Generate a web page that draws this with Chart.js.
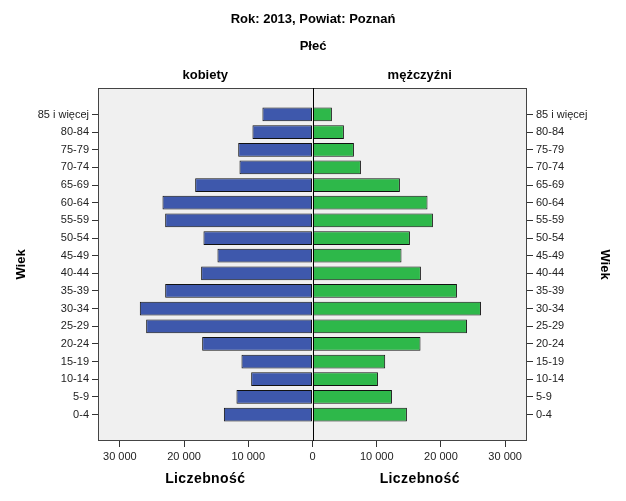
<!DOCTYPE html>
<html><head><meta charset="utf-8">
<script src="https://cdn.jsdelivr.net/npm/chart.js@4"></script>
<style>html,body{margin:0;padding:0;background:#fff}#c{display:block}</style>
</head><body>
<canvas id="c" width="626" height="501"></canvas>
<script>
const ageGroups = ['85 i więcej','80-84','75-79','70-74','65-69','60-64','55-59','50-54','45-49','40-44','35-39','30-34','25-29','20-24','15-19','10-14','5-9','0-4'];
const women = [7800, 9350, 11570, 11370, 18270, 23360, 22940, 16980, 14800, 17340, 22940, 26890, 25900, 17180, 11060, 9550, 11840, 13800];
const men = [3020, 4890, 6450, 7540, 13610, 17910, 18750, 15170, 13860, 16880, 22490, 26230, 24050, 16820, 11320, 10190, 12370, 14700];
const xTickValues = [-30000, -20000, -10000, 0, 10000, 20000, 30000];
const xLimit = 33400;
const mainTitle = 'Rok: 2013, Powiat: Poznań';
const groupTitle = 'Płeć';
const panelTitles = ['kobiety', 'mężczyźni'];
const xTitle = 'Liczebność';
const yTitle = 'Wiek';

const FONT = "'Liberation Sans', Arial, sans-serif";

function fmt(v) {
  return String(Math.abs(v)).replace(/\B(?=(\d{3})+(?!\d))/g, ' ');
}
function padCategory(scale) {
  scale._startValue -= 1;
  scale._valueRange += 2;
}

const boxPlugin = {
  id: 'box',
  beforeDraw(chart) {
    const {ctx, chartArea: a} = chart;
    ctx.save();
    ctx.fillStyle = '#f0f0f0';
    ctx.fillRect(a.left, a.top, a.right - a.left, a.bottom - a.top);
    ctx.restore();
  },
  afterDraw(chart) {
    const {ctx, chartArea: a, scales} = chart;
    ctx.save();
    ctx.strokeStyle = '#444';
    ctx.lineWidth = 1;
    ctx.strokeRect(a.left + 0.5, a.top + 0.5, a.right - a.left - 1, a.bottom - a.top - 1);
    const x0 = scales.x.getPixelForValue(0);
    ctx.strokeStyle = '#000';
    ctx.beginPath();
    ctx.moveTo(Math.round(x0) + 0.5, a.top);
    ctx.lineTo(Math.round(x0) + 0.5, a.bottom);
    ctx.stroke();
    ctx.fillStyle = '#000';
    ctx.textAlign = 'center';
    ctx.textBaseline = 'middle';
    const cx = 313;
    ctx.font = 'bold 13px ' + FONT;
    ctx.fillText(mainTitle, cx, 19);
    ctx.fillText(groupTitle, cx, 46);
    const lm = (a.left + x0) / 2, rm = (x0 + a.right) / 2;
    ctx.fillText(panelTitles[0], lm, 75);
    ctx.fillText(panelTitles[1], rm, 75);
    ctx.font = 'bold 14px ' + FONT;
    if ('letterSpacing' in ctx) ctx.letterSpacing = '0.4px';
    ctx.fillText(xTitle, lm, 479);
    ctx.fillText(xTitle, rm, 479);
    ctx.restore();
  }
};

new Chart(document.getElementById('c'), {
  type: 'bar',
  data: {
    labels: ageGroups,
    datasets: [
      { label: panelTitles[0], data: women.map(v => -v), backgroundColor: '#3e58ac', borderColor: '#111', borderWidth: 1, borderSkipped: false },
      { label: panelTitles[1], data: men, backgroundColor: '#2eb84a', borderColor: '#111', borderWidth: 1, borderSkipped: false }
    ]
  },
  options: {
    indexAxis: 'y',
    responsive: false,
    animation: false,
    devicePixelRatio: 1,
    layout: { padding: { top: 88, left: 0, right: 0, bottom: 0 } },
    categoryPercentage: 1,
    barPercentage: 0.78,
    plugins: { legend: { display: false }, tooltip: { enabled: false }, title: { display: false } },
    scales: {
      x: {
        type: 'linear', stacked: true, min: -xLimit, max: xLimit,
        afterBuildTicks: s => { s.ticks = xTickValues.map(v => ({ value: v })); },
        afterFit: s => { s.height = 60; },
        border: { display: false },
        grid: { drawOnChartArea: false, tickLength: 6, tickColor: '#333' },
        ticks: { callback: v => fmt(v), font: { family: FONT, size: 11 }, color: '#222', padding: 3, maxRotation: 0, autoSkip: false }
      },
      y: {
        type: 'category', stacked: true, position: 'left',
        afterBuildTicks: padCategory,
        afterFit: s => { s.width = 98; },
        border: { display: false },
        grid: { offset: false, drawOnChartArea: false, tickLength: 6, tickColor: '#333' },
        ticks: { font: { family: FONT, size: 11 }, color: '#222', padding: 3, autoSkip: false },
        title: { display: true, text: yTitle, font: { family: FONT, size: 13, weight: 'bold' }, color: '#000', padding: { top: 14, bottom: 0 } }
      },
      y2: {
        type: 'category', position: 'right', labels: ageGroups,
        afterBuildTicks: padCategory,
        afterFit: s => { s.width = 99; },
        border: { display: false },
        grid: { offset: false, drawOnChartArea: false, tickLength: 6, tickColor: '#333' },
        ticks: { font: { family: FONT, size: 11 }, color: '#222', padding: 3, autoSkip: false },
        title: { display: true, text: yTitle, font: { family: FONT, size: 13, weight: 'bold' }, color: '#000', padding: { top: 14, bottom: 0 } }
      }
    }
  },
  plugins: [boxPlugin]
});
</script>
</body></html>
